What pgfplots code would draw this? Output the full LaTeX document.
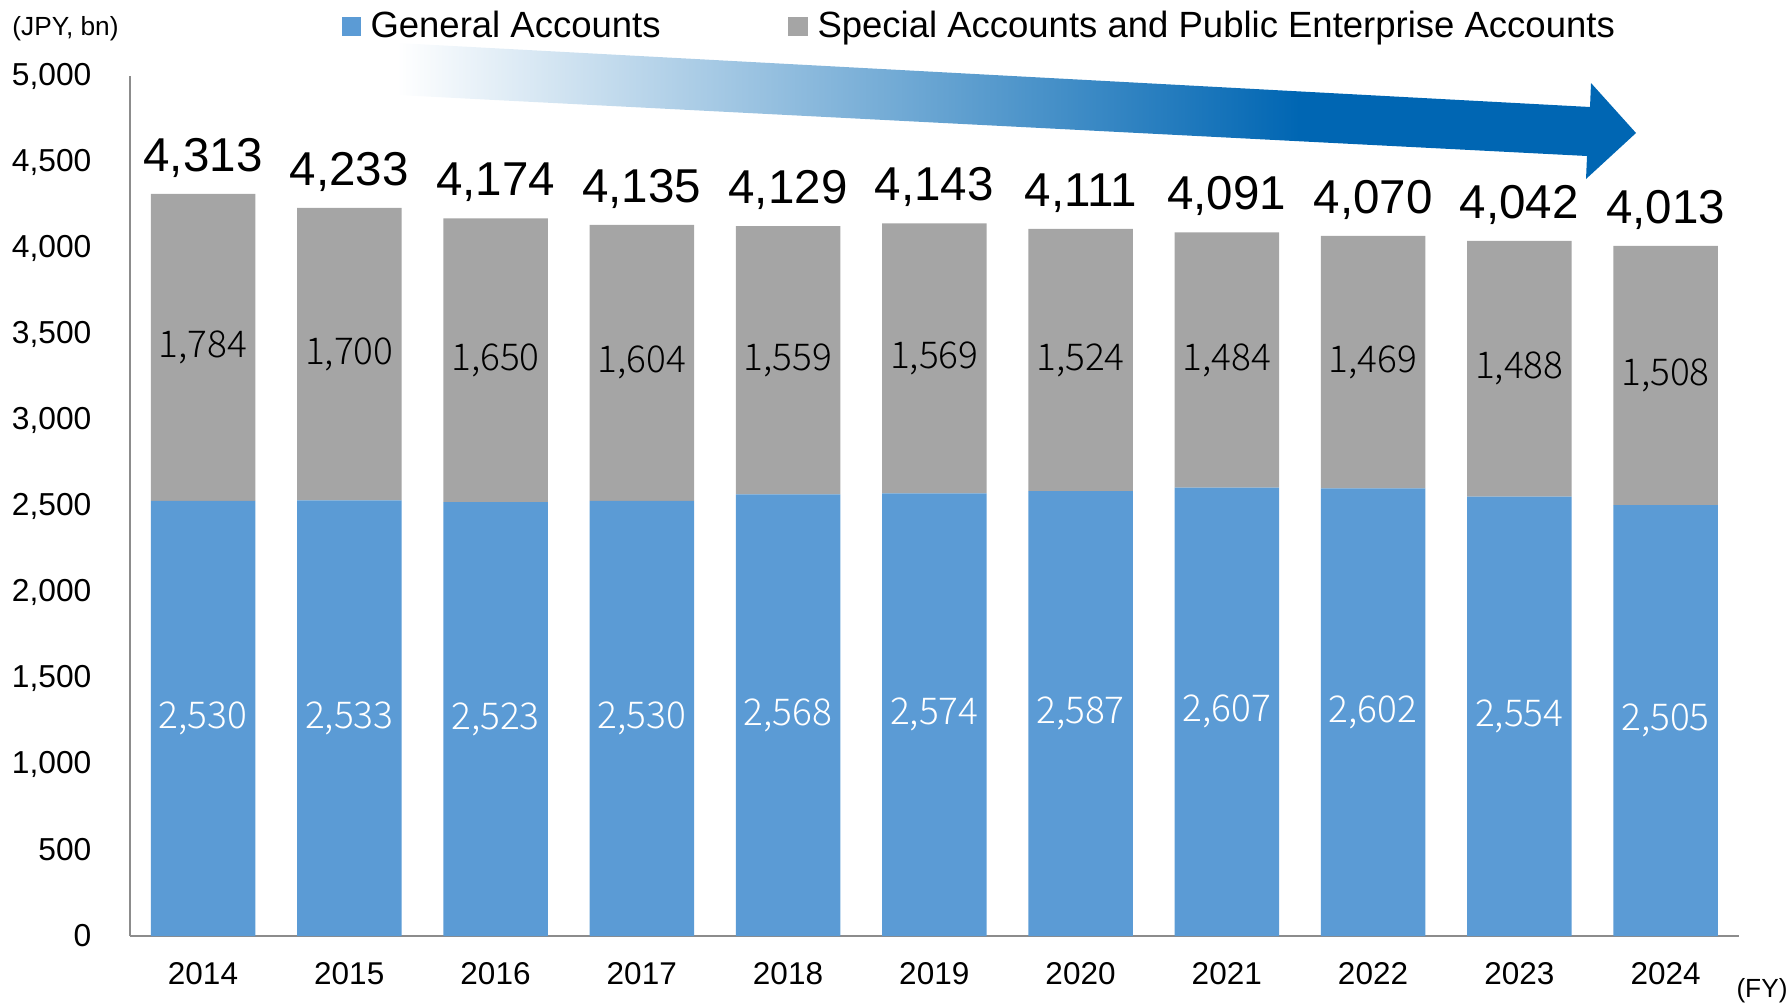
\documentclass[border=0pt]{standalone}
\usepackage{pgfplots}
\pgfplotsset{compat=1.18}
\usepackage{pgfplotstable}
\usepackage{fontspec}
\setmainfont{Liberation Sans}
\newfontfamily\jpfont{Noto Sans CJK JP Light}

\definecolor{genblue}{HTML}{5B9BD5}
\definecolor{specgray}{HTML}{A5A5A5}
\definecolor{trendblue}{HTML}{0066B3}
\definecolor{axisgray}{HTML}{8C8C8C}

% white on the left, deep blue over the last part of the arrow
\pgfdeclarehorizontalshading{trendshade}{100bp}{%
  color(0bp)=(white); color(25bp)=(white);
  color(61.4bp)=(trendblue); color(100bp)=(trendblue)}

\newcommand\fsz[1]{\fontsize{#1}{#1}\selectfont}

% JPY bn, by fiscal year
\pgfplotstableread{
idx year gen  spec total
0   2014 2530 1784 4313
1   2015 2533 1700 4233
2   2016 2523 1650 4174
3   2017 2530 1604 4135
4   2018 2568 1559 4129
5   2019 2574 1569 4143
6   2020 2587 1524 4111
7   2021 2607 1484 4091
8   2022 2602 1469 4070
9   2023 2554 1488 4042
10  2024 2505 1508 4013
}\budget

% geometry shared by the bar axis and the overlay for the totals
\pgfplotsset{
  frame/.style={
    scale only axis,
    width=643.5pt, height=344pt,
    xmin=-0.5, xmax=10.5, ymin=0, ymax=5000,
    clip=false,
  },
  /pgf/number format/assume math mode=true,
  /pgf/number format/1000 sep={,},
}

\begin{document}
\begin{tikzpicture}
% page frame, in units of 0.4pt measured from the top-left corner
\begin{scope}[x=0.4pt,y=-0.4pt,shift={(-129.875,-936)}]
  \useasboundingbox (0,0) rectangle (1791,1003);
\end{scope}

\begin{axis}[
  frame,
  ybar stacked, bar width=41.8pt,
  axis x line*=bottom, axis y line*=left,
  axis line style={draw=axisgray, line width=0.8pt, -},
  major tick length=0pt,
  xtick=data,
  xticklabels={2014,2015,2016,2017,2018,2019,2020,2021,2022,2023,2024},
  ytick={0,500,...,5000},
  scaled y ticks=false,
  xticklabel style={font=\fsz{12.6}, anchor=north, inner sep=0pt, yshift=-10.2pt},
  yticklabel style={font=\fsz{12.7}, anchor=east, inner sep=0pt, xshift=-15.2pt},
]
% General Accounts, value set in the middle of its segment
\addplot[fill=genblue, draw=none,
  nodes near coords, point meta=\thisrow{gen},
  every node near coord/.style={font=\jpfont\fsz{14.8}, text=white,
    anchor=center, inner sep=0pt}]
  table[x=idx, y=gen]{\budget};
% Special Accounts and Public Enterprise Accounts
\addplot[fill=specgray, draw=none,
  nodes near coords, point meta=\thisrow{spec},
  every node near coord/.style={font=\jpfont\fsz{14.8}, text=black,
    anchor=center, inner sep=0pt}]
  table[x=idx, y=spec]{\budget};
\end{axis}

% totals above each bar
\begin{axis}[frame, hide axis]
\addplot[draw=none, mark=none,
  nodes near coords, point meta=\thisrow{total},
  every node near coord/.style={font=\fsz{19}, text=black,
    anchor=base, inner sep=0pt, yshift=9pt}]
  table[x=idx, y=total]{\budget};
\end{axis}

\begin{scope}[x=0.4pt,y=-0.4pt,shift={(-129.875,-936)}]
  % downward trend arrow
  \shade[shading=trendshade]
    (397,43) -- (1590,107) -- (1591,83) -- (1636,133) -- (1586,179)
    -- (1587,156) -- (397,95) -- cycle;
  % legend
  \fill[genblue] (342,17) rectangle (361,36);
  \node[anchor=base west, inner sep=0pt, font=\fsz{14.6}] at (370,37) {General Accounts};
  \fill[specgray] (788,17) rectangle (808,36);
  \node[anchor=base west, inner sep=0pt, font=\fsz{14.6}] at (817,37)
    {Special Accounts and Public Enterprise Accounts};
  % units
  \node[anchor=base west, inner sep=0pt, font=\fsz{10.5}] at (12,35) {(JPY, bn)};
  \node[anchor=base east, inner sep=0pt, font=\fsz{10.5}] at (1788,997) {(FY)};
\end{scope}
\end{tikzpicture}
\end{document}
